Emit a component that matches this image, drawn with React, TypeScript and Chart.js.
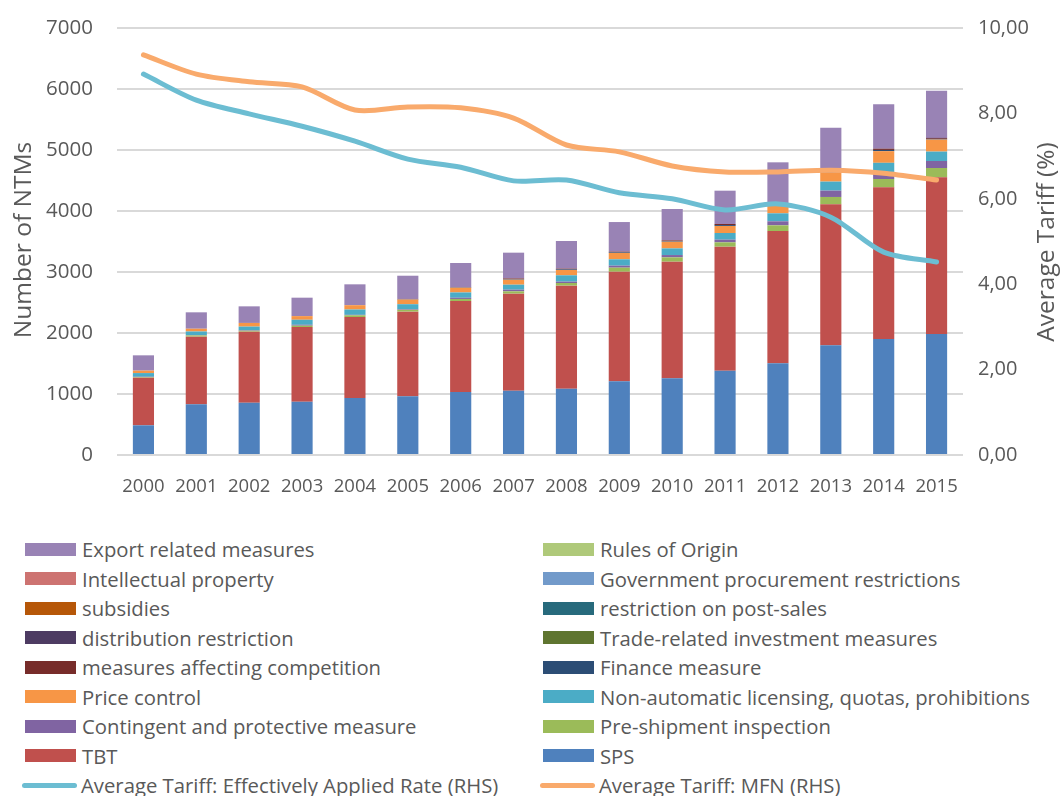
import React, { useEffect, useRef } from 'react';
import { Chart, registerables } from 'chart.js';

Chart.register(...registerables);

const years = ['2000','2001','2002','2003','2004','2005','2006','2007','2008','2009','2010','2011','2012','2013','2014','2015'];

const sps = [487, 831, 858, 874, 934, 962, 1033, 1054, 1087, 1208, 1257, 1382, 1503, 1798, 1902, 1984];
const tbt = [781, 1109, 1164, 1224, 1328, 1388, 1492, 1591, 1689, 1797, 1912, 2033, 2169, 2312, 2486, 2568];
const preShipment = [10, 20, 15, 22, 28, 30, 33, 38, 44, 66, 71, 71, 93, 120, 137, 153];
const contingent = [5, 5, 8, 15, 8, 10, 20, 27, 22, 33, 38, 44, 66, 104, 115, 115];
const nonAutomatic = [60, 60, 60, 82, 87, 82, 87, 82, 104, 104, 109, 109, 131, 148, 150, 154];
const priceControl = [40, 45, 60, 60, 71, 76, 76, 82, 87, 104, 109, 115, 131, 148, 191, 197];
const finance = [0, 0, 0, 0, 0, 5, 5, 10, 10, 10, 10, 15, 15, 8, 20, 12];
const competition = [0, 0, 0, 0, 0, 5, 5, 10, 12, 12, 12, 18, 18, 8, 20, 15];
const trims = [0, 0, 0, 0, 0, 0, 0, 0, 0, 0, 0, 0, 0, 0, 0, 0];
const distribution = [0, 0, 0, 0, 0, 0, 0, 0, 0, 0, 0, 0, 0, 0, 0, 0];
const postSales = [0, 0, 0, 0, 0, 0, 0, 0, 0, 0, 0, 0, 0, 0, 0, 0];
const subsidies = [0, 0, 0, 0, 0, 0, 0, 0, 0, 0, 0, 0, 0, 0, 0, 0];
const govProcurement = [0, 0, 0, 0, 0, 0, 0, 0, 0, 0, 0, 0, 0, 0, 0, 0];
const intellectual = [0, 0, 0, 0, 0, 0, 0, 0, 0, 0, 0, 0, 0, 0, 0, 0];
const rulesOfOrigin = [0, 0, 0, 0, 0, 0, 0, 0, 0, 0, 0, 0, 0, 0, 0, 0];
const exportRelated = [251, 269, 272, 302, 342, 381, 397, 423, 453, 485, 515, 546, 672, 720, 727, 774];

const tariffEAR = [8.92, 8.31, 7.99, 7.70, 7.35, 6.93, 6.74, 6.42, 6.44, 6.14, 6.00, 5.74, 5.88, 5.57, 4.75, 4.52];
const tariffMFN = [9.37, 8.92, 8.74, 8.62, 8.08, 8.15, 8.13, 7.89, 7.26, 7.10, 6.77, 6.63, 6.63, 6.67, 6.60, 6.44];

const leftTicks = { min: 0, max: 7000, step: 1000 };
const rightTicks = { min: 0, max: 10, step: 2 };

const FONT = '"Open Sans", sans-serif';
const TEXT = '#595959';

const barSeries = [
  { label: 'SPS', data: sps, color: '#4F81BD' },
  { label: 'TBT', data: tbt, color: '#C0504D' },
  { label: 'Pre-shipment inspection', data: preShipment, color: '#9BBB59' },
  { label: 'Contingent and protective measure', data: contingent, color: '#8064A2' },
  { label: 'Non-automatic licensing, quotas, prohibitions', data: nonAutomatic, color: '#4BACC6' },
  { label: 'Price control', data: priceControl, color: '#F79646' },
  { label: 'Finance measure', data: finance, color: '#2C4D75' },
  { label: 'measures affecting competition', data: competition, color: '#772C2A' },
  { label: 'Trade-related investment measures', data: trims, color: '#5F7530' },
  { label: 'distribution restriction', data: distribution, color: '#4D3B62' },
  { label: 'restriction on post-sales', data: postSales, color: '#276A7C' },
  { label: 'subsidies', data: subsidies, color: '#B65708' },
  { label: 'Government procurement restrictions', data: govProcurement, color: '#729ACA' },
  { label: 'Intellectual property', data: intellectual, color: '#CD7371' },
  { label: 'Rules of Origin', data: rulesOfOrigin, color: '#AFC97A' },
  { label: 'Export related measures', data: exportRelated, color: '#9983B5' },
];

const lineSeries = [
  { label: 'Average Tariff: Effectively Applied Rate (RHS)', data: tariffEAR, color: '#6CBDD2' },
  { label: 'Average Tariff: MFN (RHS)', data: tariffMFN, color: '#F9AA6C' },
];

const legendRows: [string, string][] = [
  ['Export related measures', 'Rules of Origin'],
  ['Intellectual property', 'Government procurement restrictions'],
  ['subsidies', 'restriction on post-sales'],
  ['distribution restriction', 'Trade-related investment measures'],
  ['measures affecting competition', 'Finance measure'],
  ['Price control', 'Non-automatic licensing, quotas, prohibitions'],
  ['Contingent and protective measure', 'Pre-shipment inspection'],
  ['TBT', 'SPS'],
  ['Average Tariff: Effectively Applied Rate (RHS)', 'Average Tariff: MFN (RHS)'],
];

const CANVAS_W = 1061;
const CANVAS_H = 520;
const PLOT_LEFT = 117;
const PLOT_RIGHT = 963;
const PLOT_TOP = 28;
const PLOT_BOTTOM = 455;

const axisTitlePlugin = {
  id: 'axisTitles',
  afterDraw(chart: any) {
    const ctx = chart.ctx;
    const draw = (text: string, x: number, y: number) => {
      ctx.save();
      ctx.fillStyle = TEXT;
      ctx.font = `24.5px ${FONT}`;
      ctx.textAlign = 'center';
      ctx.textBaseline = 'middle';
      ctx.translate(x, y);
      ctx.rotate(-Math.PI / 2);
      ctx.fillText(text, 0, 0);
      ctx.restore();
    };
    draw('Number of NTMs', 24, 240);
    draw('Average Tariff (%)', 1047, 242);
  },
};

function ChartCanvas() {
  const ref = useRef<HTMLCanvasElement>(null);
  useEffect(() => {
    if (!ref.current) return;
    const datasets: any[] = [];
    lineSeries.forEach((s) => {
      datasets.push({
        type: 'line',
        label: s.label,
        data: s.data,
        yAxisID: 'y2',
        borderColor: s.color,
        backgroundColor: s.color,
        borderWidth: 5,
        pointRadius: 0,
        tension: 0.3,
        borderCapStyle: 'round',
        borderJoinStyle: 'round',
        fill: false,
      });
    });
    barSeries.forEach((s) => {
      datasets.push({
        type: 'bar',
        label: s.label,
        data: s.data,
        yAxisID: 'y',
        backgroundColor: s.color,
        borderWidth: 0,
        barPercentage: 0.4,
        categoryPercentage: 1,
        stack: 'ntm',
      });
    });
    const chart = new Chart(ref.current, {
      type: 'bar',
      data: { labels: years, datasets },
      options: {
        animation: false,
        responsive: false,
        maintainAspectRatio: false,
        layout: { padding: { top: PLOT_TOP, left: 0, right: 0, bottom: 0 } },
        plugins: { legend: { display: false }, tooltip: { enabled: false } },
        scales: {
          x: {
            stacked: true,
            grid: { display: false },
            border: { display: false },
            ticks: { color: TEXT, font: { family: FONT, size: 18.5 }, padding: 13, maxRotation: 0, autoSkip: false },
            afterFit: (scale: any) => { scale.height = CANVAS_H - PLOT_BOTTOM; },
          },
          y: {
            stacked: true,
            position: 'left',
            min: leftTicks.min,
            max: leftTicks.max,
            grid: { color: '#D9D9D9', lineWidth: 2, drawTicks: false },
            border: { display: false },
            ticks: {
              stepSize: leftTicks.step,
              color: TEXT,
              font: { family: FONT, size: 20.5 },
              padding: 24,
              callback: (v: any) => String(v),
            },
            afterFit: (scale: any) => {
              scale.width = PLOT_LEFT;
              scale.paddingTop = 0;
              scale.paddingBottom = 0;
            },
          },
          y2: {
            position: 'right',
            min: rightTicks.min,
            max: rightTicks.max,
            grid: { display: false, drawTicks: false },
            border: { display: false },
            ticks: {
              stepSize: rightTicks.step,
              color: TEXT,
              font: { family: FONT, size: 20 },
              padding: 15,
              callback: (v: any) => Number(v).toFixed(2).replace('.', ','),
            },
            afterFit: (scale: any) => {
              scale.width = CANVAS_W - PLOT_RIGHT;
              scale.paddingTop = 0;
              scale.paddingBottom = 0;
            },
          },
        },
      },
      plugins: [axisTitlePlugin],
    });
    return () => chart.destroy();
  }, []);
  return <canvas ref={ref} width={CANVAS_W} height={CANVAS_H} style={{ display: 'block', width: CANVAS_W, height: CANVAS_H }} />;
}

function colorOf(label: string) {
  const b = barSeries.find((s) => s.label === label);
  if (b) return { color: b.color, line: false };
  const l = lineSeries.find((s) => s.label === label);
  return { color: l ? l.color : '#000', line: true };
}

function LegendItem({ label, left, top }: { label: string; left: number; top: number }) {
  const { color, line } = colorOf(label);
  return (
    <div style={{ position: 'absolute', left, top, height: 30, display: 'flex', alignItems: 'center', whiteSpace: 'nowrap' }}>
      {line ? (
        <div style={{ width: 55, height: 5, borderRadius: 3, background: color, marginLeft: -3, marginRight: 4 }} />
      ) : (
        <div style={{ width: 51, height: 13, background: color, marginRight: 6 }} />
      )}
      <span style={{ fontFamily: FONT, fontSize: 20.3, color: TEXT, lineHeight: '30px' }}>{label}</span>
    </div>
  );
}

export default function App() {
  return (
    <div style={{ position: 'absolute', left: 0, top: 0, width: 1061, height: 796, background: '#fff', overflow: 'hidden' }}>
      <ChartCanvas />
      {legendRows.map((row, i) => (
        <React.Fragment key={i}>
          <LegendItem label={row[0]} left={25} top={534 + i * 29.5} />
          <LegendItem label={row[1]} left={543} top={534 + i * 29.5} />
        </React.Fragment>
      ))}
    </div>
  );
}
